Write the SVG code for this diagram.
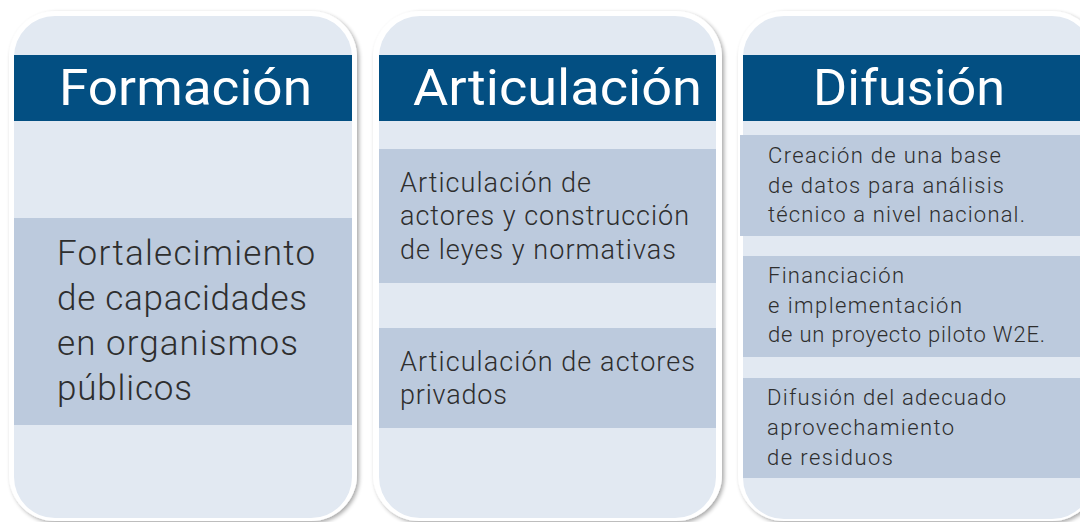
<svg xmlns="http://www.w3.org/2000/svg" width="1080" height="522" viewBox="0 0 1080 522">
<defs>
<filter id="sh" x="-10%" y="-10%" width="120%" height="120%">
<feGaussianBlur in="SourceAlpha" stdDeviation="2"/>
<feOffset dx="2" dy="2" result="b"/>
<feComponentTransfer><feFuncA type="linear" slope="0.35"/></feComponentTransfer>
<feMerge><feMergeNode/><feMergeNode in="SourceGraphic"/></feMerge>
</filter>
</defs>
<style>
.outer{fill:#ffffff;filter:url(#sh)}
.inner{fill:#e2e9f2}
.hdr{fill:#034f82}
.box{fill:#bccadd}
.ht{font-family:Roboto,"Liberation Sans",sans-serif;font-weight:400;fill:#ffffff;font-size:50px}
.t1{font-family:Roboto,"Liberation Sans",sans-serif;font-weight:300;fill:#2e2e2e;font-size:35px}
.t2{font-family:Roboto,"Liberation Sans",sans-serif;font-weight:300;fill:#2e2e2e;font-size:27px}
.t3{font-family:Roboto,"Liberation Sans",sans-serif;font-weight:300;fill:#2e2e2e;font-size:22px}
</style>
<rect width="1080" height="522" fill="#ffffff"/>
<g id="panel-formacion">
<rect class="outer" x="9" y="11" width="348" height="510" rx="46"/>
<rect class="inner" x="14" y="16" width="338" height="502" rx="41"/>
<rect class="hdr" x="14" y="55" width="338" height="66"/>
<text class="ht" x="59" y="105" textLength="253" lengthAdjust="spacingAndGlyphs">Formación</text>
</g>
<g id="box-fortalecimiento">
<rect class="box" x="14" y="218" width="338" height="207"/>
<text class="t1" x="57" y="265" textLength="258">Fortalecimiento</text>
<text class="t1" x="57" y="310" textLength="250">de capacidades</text>
<text class="t1" x="57" y="355" textLength="241">en organismos</text>
<text class="t1" x="57" y="400" textLength="135">públicos</text>
</g>
<g id="panel-articulacion">
<rect class="outer" x="373" y="11" width="349" height="510" rx="46"/>
<rect class="inner" x="379" y="16" width="337" height="502" rx="41"/>
<rect class="hdr" x="379" y="55" width="337" height="66"/>
<text class="ht" x="413" y="105" textLength="289" lengthAdjust="spacingAndGlyphs">Articulación</text>
</g>
<g id="box-leyes">
<rect class="box" x="379" y="149" width="337" height="134"/>
<text class="t2" x="400" y="192" textLength="191">Articulación de</text>
<text class="t2" x="400" y="225" textLength="289">actores y construcción</text>
<text class="t2" x="400" y="259" textLength="276">de leyes y normativas</text>
</g>
<g id="box-privados">
<rect class="box" x="379" y="328" width="337" height="100"/>
<text class="t2" x="400" y="371" textLength="295">Articulación de actores</text>
<text class="t2" x="400" y="404" textLength="107">privados</text>
</g>
<g id="panel-difusion">
<rect class="outer" x="738" y="11" width="360" height="510" rx="46"/>
<rect class="inner" x="743" y="16" width="350" height="503" rx="41"/>
<rect class="hdr" x="743" y="55" width="337" height="66"/>
<text class="ht" x="813" y="105" textLength="192" lengthAdjust="spacingAndGlyphs">Difusión</text>
</g>
<g id="box-base-datos">
<rect class="box" x="740" y="135" width="340" height="101"/>
<text class="t3" x="768" y="163" textLength="233">Creación de una base</text>
<text class="t3" x="768" y="193" textLength="236">de datos para análisis</text>
<text class="t3" x="768" y="222" textLength="257">técnico a nivel nacional.</text>
</g>
<g id="box-piloto">
<rect class="box" x="743" y="256" width="337" height="101"/>
<text class="t3" x="768" y="283" textLength="136">Financiación</text>
<text class="t3" x="768" y="313" textLength="194">e implementación</text>
<text class="t3" x="768" y="342" textLength="277">de un proyecto piloto W2E.</text>
</g>
<g id="box-residuos">
<rect class="box" x="743" y="378" width="337" height="100"/>
<text class="t3" x="767" y="405" textLength="239">Difusión del adecuado</text>
<text class="t3" x="767" y="435" textLength="187">aprovechamiento</text>
<text class="t3" x="767" y="465" textLength="126">de residuos</text>
</g>
</svg>
